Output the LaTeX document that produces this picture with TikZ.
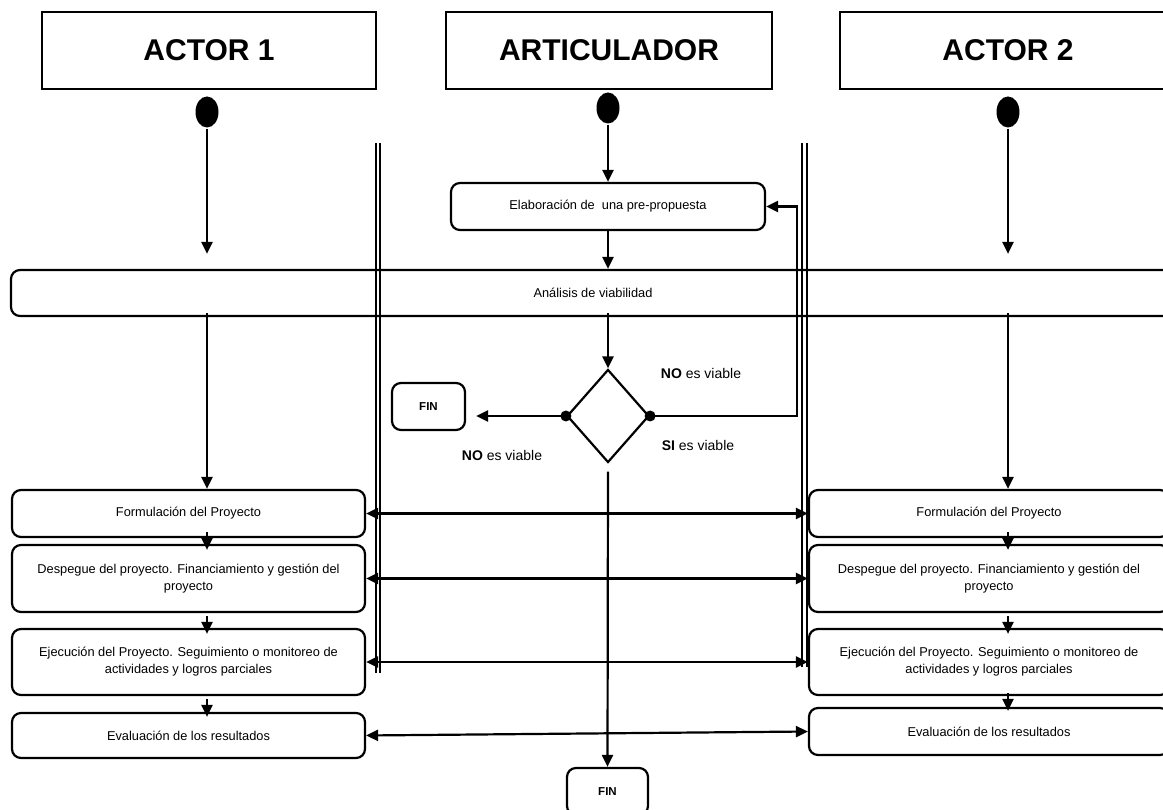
\documentclass[tikz,border=0pt]{standalone}
\usepackage{fontspec}
\setmainfont{Liberation Sans}
\usetikzlibrary{arrows.meta,shapes.geometric}

\begin{document}
\begin{tikzpicture}[x=1pt,y=-1pt,
  line width=2.2pt,
  >={Triangle[length=12pt,width=11pt]},
  header/.style={draw, rectangle, minimum height=77pt, inner sep=0pt,
    font=\fontsize{30}{34}\selectfont\bfseries},
  startdot/.style={ellipse, fill=black, draw=none, inner sep=0pt,
    minimum width=23pt, minimum height=31pt},
  act/.style={draw, rounded corners=9pt, align=center, inner sep=0pt,
    font=\fontsize{12.8}{17}\selectfont},
  finbox/.style={draw, rounded corners=9pt, inner sep=0pt,
    font=\fontsize{11.5}{13}\selectfont\bfseries},
  decision/.style={draw, diamond, inner sep=0pt, minimum width=82pt,
    minimum height=93pt},
  knot/.style={circle, fill=black, inner sep=0pt, minimum size=11pt},
  lbl/.style={font=\fontsize{14}{16}\selectfont, inner sep=0pt},
  lane/.style={line width=1.7pt},
  flow/.style={->},
]
\useasboundingbox (0,0) rectangle (1163,810);
\clip (0,0) rectangle (1163,810);
\fill[white] (0,0) rectangle (1163,810);

% swimlane headers
\node[header, minimum width=334pt] (h1) at (209,50.5) {ACTOR 1};
\node[header, minimum width=326pt] (h2) at (609,50.5) {ARTICULADOR};
\node[header, minimum width=336pt] (h3) at (1008,50.5) {ACTOR 2};

% initial states
\node[startdot] (s1) at (207,112) {};
\node[startdot] (s2) at (608,108) {};
\node[startdot] (s3) at (1008,112) {};

% lane separators
\draw[lane] (376,143) -- (376,673);
\draw[lane] (380,143) -- (380,673);
\draw[lane] (802,143) -- (802,667);
\draw[lane] (807,143) -- (807,667);

% articulador activities
\node[act, minimum width=314pt, minimum height=47pt] (el) at (608,206.5)
  {Elaboración de \ una pre-propuesta};
\node[act, minimum width=1164pt, minimum height=46pt] (an) at (593,293)
  {Análisis de viabilidad};
\node[decision] (dm) at (608,416) {};
\node[knot] (kl) at (dm.west) {};
\node[knot] (kr) at (dm.east) {};
\node[finbox, minimum width=73pt, minimum height=47pt] (fa) at (428.5,406.5) {FIN};
\node[finbox, minimum width=81pt, minimum height=47pt] (fb) at (607.5,791.5) {FIN};

\node[lbl] (l1) at (701,373) {\textbf{NO} es viable};
\node[lbl] (l2) at (698,445) {\textbf{SI} es viable};
\node[lbl] (l3) at (502,455) {\textbf{NO} es viable};

% actor 1 activities
\node[act, minimum width=353pt, minimum height=47pt] (f1) at (188.5,513.5)
  {Formulación del Proyecto};
\node[act, minimum width=353pt, minimum height=67pt] (d1) at (188.5,578.5)
  {Despegue del proyecto. Financiamiento y gestión del\\proyecto};
\node[act, minimum width=353pt, minimum height=66pt] (e1) at (188.5,662)
  {Ejecución del Proyecto. Seguimiento o monitoreo de\\actividades y logros parciales};
\node[act, minimum width=353pt, minimum height=45pt] (v1) at (188.5,735.5)
  {Evaluación de los resultados};

% actor 2 activities
\node[act, minimum width=360pt, minimum height=47pt] (f2) at (989,513.5)
  {Formulación del Proyecto};
\node[act, minimum width=360pt, minimum height=67pt] (d2) at (989,578.5)
  {Despegue del proyecto. Financiamiento y gestión del\\proyecto};
\node[act, minimum width=360pt, minimum height=66pt] (e2) at (989,662)
  {Ejecución del Proyecto. Seguimiento o monitoreo de\\actividades y logros parciales};
\node[act, minimum width=360pt, minimum height=47pt] (v2) at (989,731.5)
  {Evaluación de los resultados};

% flows from the initial states
\draw[flow, shorten >=15pt] (s1) -- (s1 |- an.north);
\draw[flow] (s2) -- (el.north);
\draw[flow, shorten >=15pt] (s3) -- (s3 |- an.north);
\draw[flow] (el.south) -- (el.south |- an.north);

% flows leaving the viability analysis
\draw[flow, shorten <=-4pt] (s1 |- an.south) -- (s1 |- f1.north);
\draw[flow, shorten <=-4pt] (s2 |- an.south) -- (dm.north);
\draw[flow, shorten <=-4pt] (s3 |- an.south) -- (s3 |- f2.north);

% decision branches
\draw[flow, shorten >=10pt] (kl.center) -- (kl.center -| fa.east);
\coordinate (lx) at (797,0);
\draw[flow] (kr.center) -| (lx |- el.east) -- (el.east);
\draw[flow, shorten <=8pt] (dm.south) -- (fb.north);

% sequence inside each actor lane
\draw[flow, shorten <=-6pt, shorten >=-6pt] (s1 |- f1.south) -- (s1 |- d1.north);
\draw[flow, shorten <=3pt, shorten >=-6pt] (s1 |- d1.south) -- (s1 |- e1.north);
\draw[flow, shorten <=3pt, shorten >=-5pt] (s1 |- e1.south) -- (s1 |- v1.north);
\draw[flow, shorten <=-6pt, shorten >=-6pt] (s3 |- f2.south) -- (s3 |- d2.north);
\draw[flow, shorten <=3pt, shorten >=-6pt] (s3 |- d2.south) -- (s3 |- e2.north);
\draw[flow, shorten <=-3pt, shorten >=-4pt] (s3 |- e2.south) -- (s3 |- v2.north);

% coordination between the two actors
\draw[<->] (f1.east) -- (f2.west);
\draw[<->] (d1.east) -- (d2.west);
\draw[<->] (e1.east) -- (e2.west);
\draw[<->] (v1.east) -- (v2.west);
\end{tikzpicture}
\end{document}
